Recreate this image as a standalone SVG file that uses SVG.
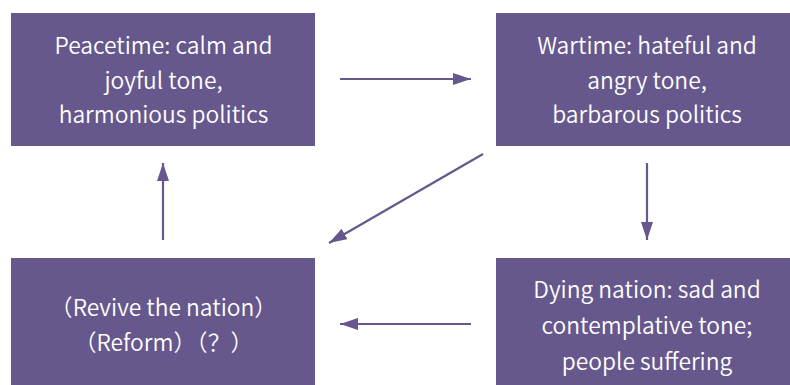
<svg xmlns="http://www.w3.org/2000/svg" width="790" height="385" viewBox="0 0 790 385">
<defs>
<style>
.box{fill:#66588C}
.t{font-family:"Noto Sans CJK SC","Noto Sans",sans-serif;font-size:22.8px;font-weight:350;fill:#ffffff;text-anchor:middle}
.c{stroke:#66588C;stroke-width:2.2;fill:none}
</style>
<marker id="ah" viewBox="0 0 18 12" refX="18" refY="6" markerWidth="18" markerHeight="12" markerUnits="userSpaceOnUse" orient="auto">
<path d="M0,0 L18,6 L0,12 Z" fill="#66588C"/>
</marker>
</defs>
<rect width="790" height="385" fill="#ffffff"/>
<g id="peacetime">
<rect class="box" x="11" y="13" width="304" height="133"/>
<text class="t" x="163.5" y="54">Peacetime: calm and</text>
<text class="t" x="163.5" y="89">joyful tone,</text>
<text class="t" x="163.5" y="123">harmonious politics</text>
</g>
<g id="wartime">
<rect class="box" x="496" y="13" width="304" height="133"/>
<text class="t" x="647" y="54">Wartime: hateful and</text>
<text class="t" x="647" y="89">angry tone,</text>
<text class="t" x="647" y="123">barbarous politics</text>
</g>
<g id="dying">
<rect class="box" x="496" y="258" width="304" height="127"/>
<text class="t" x="647" y="298">Dying nation: sad and</text>
<text class="t" x="647" y="334">contemplative tone;</text>
<text class="t" x="647" y="370">people suffering</text>
</g>
<g id="revive">
<rect class="box" x="11" y="258" width="304" height="127"/>
<text class="t" x="163.5" y="316">（Revive the nation）</text>
<text class="t" x="163.5" y="351">（Reform）（？）</text>
</g>
<g id="connectors">
<line class="c" x1="340" y1="79" x2="471" y2="79" marker-end="url(#ah)"/>
<line class="c" x1="483" y1="154" x2="329" y2="243" marker-end="url(#ah)"/>
<line class="c" x1="647" y1="163" x2="647" y2="240" marker-end="url(#ah)"/>
<line class="c" x1="471" y1="324" x2="340" y2="324" marker-end="url(#ah)"/>
<line class="c" x1="163" y1="240" x2="163" y2="163" marker-end="url(#ah)"/>
</g>
</svg>
